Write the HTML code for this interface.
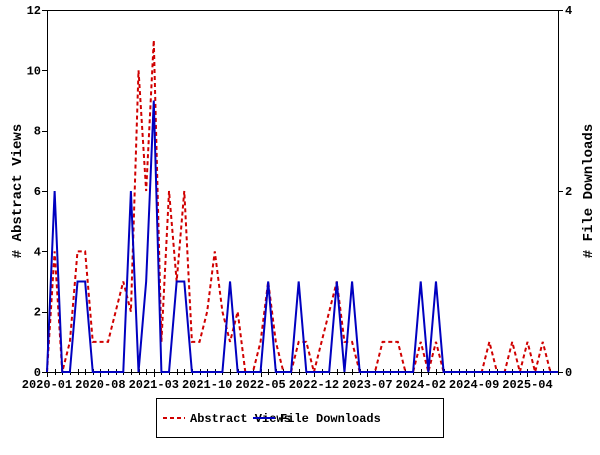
<!DOCTYPE html>
<html><head><meta charset="utf-8"><style>
body{margin:0;background:#fff;}
svg text{font-family:"Liberation Mono",monospace;font-weight:bold;font-size:12px;fill:#000;}
</style></head><body>
<svg id="chart" width="600" height="450" xmlns="http://www.w3.org/2000/svg">
<g id="axes"></g><g id="series"></g>
<g>
<rect x="156.5" y="398.5" width="287" height="39" fill="#fff" stroke="#000" stroke-width="1"/>
<line x1="163" y1="418" x2="185" y2="418" stroke="#d00000" stroke-width="2" stroke-dasharray="4,3"/>
<text x="190" y="422">Abstract Views</text>
<line x1="253" y1="418" x2="275" y2="418" stroke="#0000c0" stroke-width="2"/>
<text x="280" y="422">File Downloads</text>
</g>
<text transform="translate(21,191) rotate(-90)" text-anchor="middle" style="font-size:14px">&#35; Abstract Views</text>
<text transform="translate(592,191) rotate(-90)" text-anchor="middle" style="font-size:14px">&#35; File Downloads</text>
</svg>
<script>
const views=[0,4,0,1,4,4,1,1,1,2,3,2,10,6,11,1,6,3,6,1,1,2,4,2,1,2,0,0,1,3,1,0,0,1,1,0,1,2,3,1,1,0,0,0,1,1,1,0,0,1,0,1,0,0,0,0,0,0,1,0,0,1,0,1,0,1,0,0];
const downloads=[0,2,0,0,1,1,0,0,0,0,0,2,0,1,3,0,0,1,1,0,0,0,0,0,1,0,0,0,0,1,0,0,0,1,0,0,0,0,1,0,1,0,0,0,0,0,0,0,0,1,0,1,0,0,0,0,0,0,0,0,0,0,0,0,0,0,0,0];
const xLabels=["2020-01","2020-08","2021-03","2021-10","2022-05","2022-12","2023-07","2024-02","2024-09","2025-04"];
const leftTicks=[0,2,4,6,8,10,12];
const rightTicks=[0,2,4];
const NS="http://www.w3.org/2000/svg";
const X0=47,X1=558,Y0=372,Y1=10;
const n=views.length;
const x=i=>X0+(X1-X0)*i/(n-1);
const yL=v=>Y0-(Y0-Y1)*v/12;
const yR=v=>Y0-(Y0-Y1)*v/4;
const axes=document.getElementById('axes'),ser=document.getElementById('series');
function mk(tag,attrs,parent,txt){const e=document.createElementNS(NS,tag);for(const k in attrs)e.setAttribute(k,attrs[k]);if(txt!==undefined)e.textContent=txt;parent.appendChild(e);return e;}
let e=mk('rect',{x:X0+.5,y:Y1+.5,width:X1-X0,height:Y0-Y1,fill:'none',stroke:'#000'},axes);


for(const t of leftTicks){
 e=mk('line',{x1:X0-5,x2:X0,y1:Math.round(yL(t))+.5,y2:Math.round(yL(t))+.5,stroke:'#000'},axes);
 
 
 e=mk('text',{x:X0-6,y:yL(t)+4,'text-anchor':'end'},axes,String(t));
 
 
}
for(const t of rightTicks){
 e=mk('line',{x1:X1,x2:X1+5,y1:Math.round(yR(t))+.5,y2:Math.round(yR(t))+.5,stroke:'#000'},axes);
 
 
 e=mk('text',{x:X1+7,y:yR(t)+4},axes,String(t));
 
 
}
for(let i=0;i<n;i++){
 const major=i%7===0;
 e=mk('line',{x1:Math.round(x(i))+.5,x2:Math.round(x(i))+.5,y1:Y0-3,y2:Y0+(major?5:3),stroke:'#000'},axes);
 
 
}
xLabels.forEach((l,k)=>{
 e=mk('text',{x:x(k*7),y:Y0+16,'text-anchor':'middle'},axes,l);
 
 
});
e=mk('polyline',{points:views.map((v,i)=>x(i)+','+yL(v)).join(' '),fill:'none',stroke:'#d00000','stroke-width':2,'stroke-dasharray':'4,3'},ser);


e=mk('polyline',{points:downloads.map((v,i)=>x(i)+','+yR(v)).join(' '),fill:'none',stroke:'#0000c0','stroke-width':2},ser);


</script>
</body></html>
